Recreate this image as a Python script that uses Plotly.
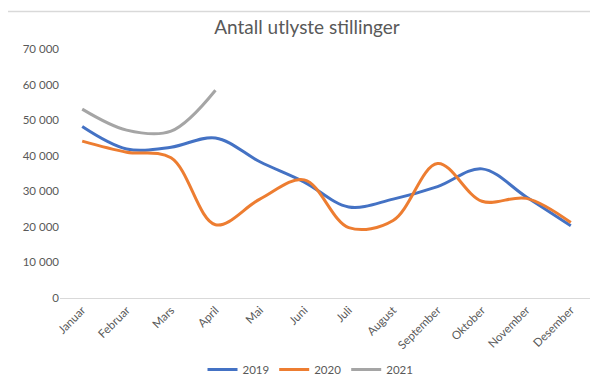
import plotly.graph_objects as go

months = ["Januar", "Februar", "Mars", "April", "Mai", "Juni", "Juli", "August",
          "September", "Oktober", "November", "Desember"]
v2019 = [48200, 41900, 42400, 45000, 38300, 32600, 25600, 27800, 31300, 36300, 28400, 20300]
v2020 = [44100, 41000, 39400, 20600, 27800, 33200, 19800, 21800, 37800, 27200, 28000, 21200]
v2021 = [53100, 47200, 46900, 58400]

series = [("2019", v2019, "#4472C4"), ("2020", v2020, "#ED7D31"), ("2021", v2021, "#A5A5A5")]

fig = go.Figure()
for name, vals, col in series:
    fig.add_trace(go.Scatter(
        x=months[:len(vals)], y=vals, name=name, mode="lines",
        line=dict(color=col, width=3, shape="spline", smoothing=1.0),
    ))

font = "Lato, Open Sans, sans-serif"
fig.update_layout(
    width=598, height=392,
    margin=dict(l=52, r=13, t=41, b=102),
    paper_bgcolor="white", plot_bgcolor="white",
    separators=", ",
    title=dict(text="Antall utlyste stillinger", x=0.5, xanchor="center", y=0.95, yanchor="middle",
               font=dict(family=font, size=19, color="#595959")),
    font=dict(family=font, size=11, color="#595959"),
    showlegend=True,
    legend=dict(orientation="h", x=0.47, xanchor="center", y=-0.287, yanchor="middle",
                font=dict(size=11.5, color="#595959"), itemwidth=30, tracegroupgap=0),
    xaxis=dict(type="category", categoryorder="array", categoryarray=months, automargin=False,
               range=[-0.5, 11.5], tickangle=-45, showgrid=False, showline=True,
               linecolor="#D9D9D9", linewidth=1, ticks="", tickfont=dict(size=11.5, color="#595959")),
    yaxis=dict(range=[0, 70000], dtick=10000, tickformat=",d", showgrid=False, automargin=False,
               zeroline=False, showline=False, ticks="", tickfont=dict(size=11.5, color="#595959")),
)
fig.add_shape(type="line", xref="paper", yref="paper", x0=-0.1, x1=1.03, y0=1.151, y1=1.151,
              line=dict(color="#D9D9D9", width=1.5))
fig.add_shape(type="line", xref="paper", yref="paper", x0=-0.1, x1=1.03, y0=-0.398, y1=-0.398,
              line=dict(color="#D9D9D9", width=1.5))
fig.write_html("out.html")
